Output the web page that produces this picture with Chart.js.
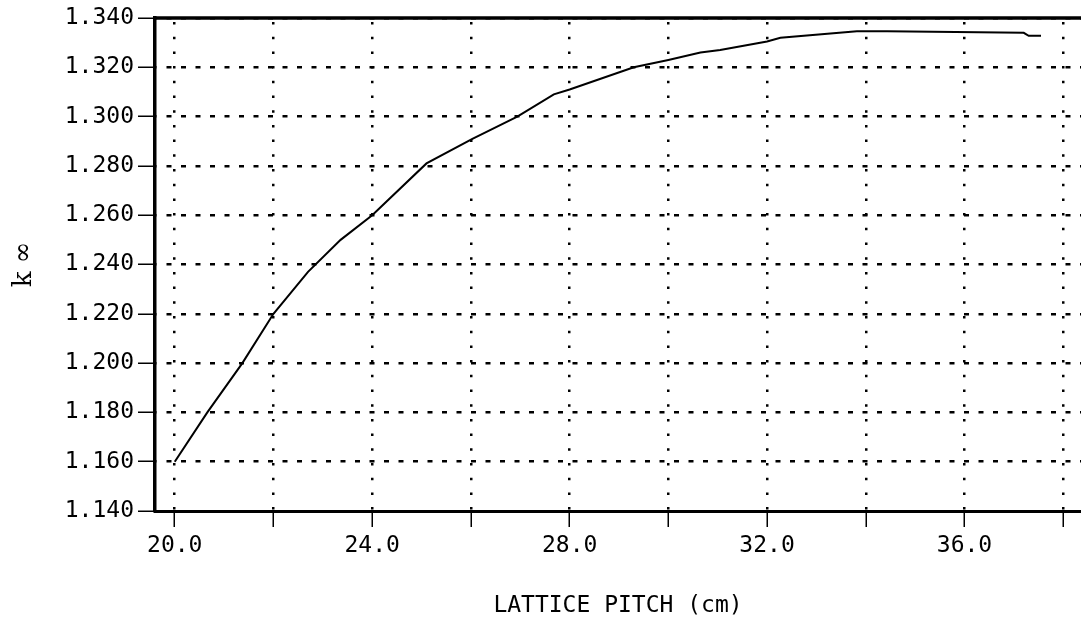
<!DOCTYPE html>
<html>
<head>
<meta charset="utf-8">
<script src="https://cdn.jsdelivr.net/npm/chart.js@4"></script>
<style>
  html, body { margin: 0; padding: 0; background: #fff; }
  #wrap { width: 1081px; height: 626px; }
</style>
</head>
<body>
<div id="wrap"><canvas id="myChart"></canvas></div>
<script>
// lattice pitch (cm) vs k-infinity
var pitch = [20.0, 20.66, 21.37, 22.0, 22.7, 23.36, 24.0, 25.1, 26.03, 26.94, 27.68, 28.0, 29.3, 30.0, 30.65, 31.05, 32.0, 32.27, 33.82, 34.43, 37.2, 37.3, 37.55];
var kinf = [1.160, 1.180, 1.200, 1.220, 1.237, 1.250, 1.260, 1.281, 1.291, 1.300, 1.309, 1.311, 1.320, 1.323, 1.326, 1.327, 1.3305, 1.332, 1.3346, 1.3346, 1.3340, 1.3328, 1.3328];
var xTicks = [20, 22, 24, 26, 28, 30, 32, 34, 36, 38];
var yTicks = [1.14, 1.16, 1.18, 1.20, 1.22, 1.24, 1.26, 1.28, 1.30, 1.32, 1.34];

var pts = pitch.map(function (p, i) { return { x: p, y: kinf[i] }; });

var topLine = {
  id: 'topLine',
  afterDraw: function (chart) {
    var a = chart.chartArea, c = chart.ctx;
    c.save();
    c.strokeStyle = '#000';
    c.lineWidth = 3.5;
    c.beginPath();
    c.moveTo(a.left - 1, a.top);
    c.lineTo(a.right, a.top);
    c.stroke();
    c.restore();
  }
};

var mono = 'DejaVu Sans Mono';
var ctx = document.getElementById('myChart').getContext('2d');
myChart = new Chart(ctx, {
    type: 'scatter',
    data: {
        datasets: [{
          data: pts,
          showLine: true,
          borderColor: '#000',
          borderWidth: 2,
          pointRadius: 0,
          tension: 0
        }]
    },
    options: {
      responsive: true,
      maintainAspectRatio: false,
      animation: false,
      events: [],
      layout: { padding: { top: 18, right: 0, bottom: 0, left: 0 } },
      plugins: { legend: { display: false }, tooltip: { enabled: false } },
      scales: {
        x: {
          type: 'linear',
          min: 19.6,
          max: 38.36,
          afterBuildTicks: function (s) { s.ticks = xTicks.map(function (v) { return { value: v }; }); },
          afterFit: function (s) { s.height = 115; },
          ticks: {
            color: '#000',
            font: { family: mono, size: 23 },
            padding: 5,
            maxRotation: 0,
            callback: function (v) { return v % 4 === 0 ? v.toFixed(1) : ''; }
          },
          grid: {
            color: '#000',
            lineWidth: 2.5,
            tickLength: 16,
            tickBorderDash: [],
            tickWidth: 1.5
          },
          border: { display: true, color: '#000', width: 3, dash: [2.5, 12.2], dashOffset: -4 },
          title: {
            display: true,
            text: 'LATTICE PITCH (cm)',
            color: '#000',
            font: { family: mono, size: 23 },
            padding: { top: 0, bottom: 6 }
          }
        },
        y: {
          min: 1.14,
          max: 1.34,
          afterBuildTicks: function (s) { s.ticks = yTicks.map(function (v) { return { value: v }; }); },
          afterFit: function (s) { s.width = 155; },
          ticks: {
            color: '#000',
            font: { family: mono, size: 23 },
            padding: 4,
            callback: function (v) { return v.toFixed(3); }
          },
          grid: {
            color: '#000',
            lineWidth: 2.5,
            tickLength: 17,
            tickBorderDash: [],
            tickWidth: 1.5
          },
          border: { display: true, color: '#000', width: 3.5, dash: [5, 9.5], dashOffset: -10 },
          title: {
            display: true,
            text: 'k ∞',
            color: '#000',
            font: { family: 'DejaVu Serif', size: 26 },
            padding: { top: 9, bottom: 0 }
          }
        }
      }
    },
    plugins: [topLine]
});
</script>
</body>
</html>
